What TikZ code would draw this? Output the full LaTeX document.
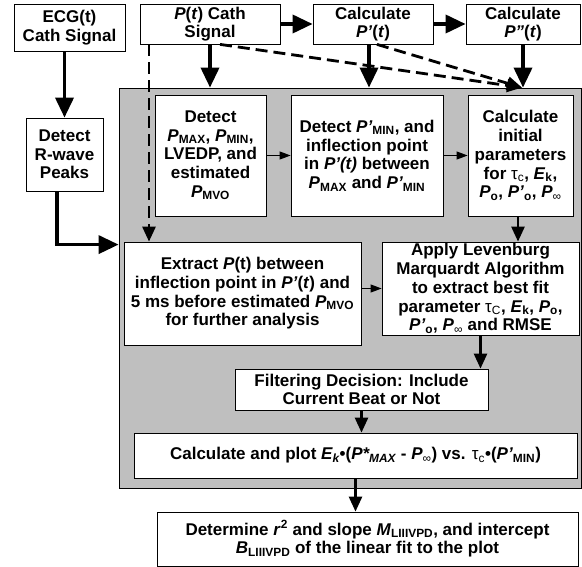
\documentclass[tikz,border=0pt]{standalone}
\usepackage{fontspec}
\setmainfont{Liberation Sans}
\usetikzlibrary{arrows.meta}
\newcommand{\sub}[1]{\textsubscript{#1}}
\newcommand{\tauc}{{\mdseries τ\textsubscript{c}}}
\newcommand{\infsub}{\textsubscript{\mdseries ∞}}
\tikzset{
  box/.style={draw, fill=white, line width=0.8pt, align=center, inner sep=1pt,
    font=\fontsize{17}{18.7}\selectfont\bfseries},
  panelbox/.style={draw, fill=gray!50, line width=0.8pt, inner sep=0pt},
  bigarrow/.style={line width=3.6pt, -{Triangle[length=20pt,width=18pt]}},
  midarrow/.style={line width=2.6pt, -{Triangle[length=15pt,width=13pt]}},
  thinarrow/.style={line width=1pt, -{Triangle[length=11pt,width=8pt]}},
  dasharrow/.style={line width=2.8pt, dash pattern=on 12pt off 6pt, -{Triangle[length=15pt,width=13pt]}}
}
\begin{document}
\begin{tikzpicture}[x=1pt, y=-1pt]
\useasboundingbox (0,0) rectangle (582,567);
\node[panelbox, minimum width=462pt, minimum height=400pt] (panel) at (350,288) {};
\node[box, minimum width=111pt, minimum height=47pt] (ecg) at (69.5,27.5) {ECG(t)\\Cath Signal};
\node[box, minimum width=140pt, minimum height=40pt] (pt) at (210,24) {\textit{P}(\textit{t}) Cath\\Signal};
\node[box, minimum width=120pt, minimum height=40pt] (dp) at (373,24) {Calculate\\\textit{P'}(\textit{t})};
\node[box, minimum width=114pt, minimum height=40pt] (ddp) at (523,24) {Calculate\\\textit{P''}(\textit{t})};
\node[box, minimum width=77pt, minimum height=73pt] (rwave) at (64.5,154.5) {Detect\\R-wave\\Peaks};
\node[box, minimum width=111pt, minimum height=121pt] (detect) at (210.5,155.5)
  {Detect\\\textit{P}\sub{MAX}, \textit{P}\sub{MIN},\\LVEDP, and\\estimated\\\textit{P}\sub{MVO}};
\node[box, minimum width=152pt, minimum height=121pt] (dmin) at (367,155.5)
  {Detect \textit{P'}\sub{MIN}, and\\inflection point\\in \textit{P'(t)} between\\\textit{P}\sub{MAX} and \textit{P'}\sub{MIN}};
\node[box, minimum width=105pt, minimum height=121pt] (init) at (520.5,155.5)
  {Calculate\\initial\\parameters\\for \tauc, \textit{E}\sub{k},\\\textit{P}\sub{o}, \textit{P'}\sub{o}, \textit{P}\infsub};
\node[box, minimum width=237pt, minimum height=103pt] (extract) at (242.5,293.5)
  {Extract \textit{P}(t) between\\inflection point in \textit{P'}(\textit{t}) and\\5 ms before estimated \textit{P}\sub{MVO}\\for further analysis};
\node[box, minimum width=197pt, minimum height=93pt] (lm) at (480.5,288.5)
  {Apply Levenburg\\Marquardt Algorithm\\to extract best fit\\parameter {\mdseries τ\textsubscript{C}}, \textit{E}\sub{k}, \textit{P}\sub{o},\\\textit{P'}\sub{o}, \textit{P}\infsub{} and RMSE};
\node[box, minimum width=253pt, minimum height=41pt] (filt) at (361.5,389.5)
  {Filtering Decision: Include\\Current Beat or Not};
\node[box, minimum width=443pt, minimum height=45pt] (plot) at (355.5,455.5)
  {Calculate and plot \textit{E\sub{k}}•(\textit{P*\sub{MAX}} - \textit{P}\infsub) vs. \tauc•(\textit{P'}\sub{MIN})};
\node[box, minimum width=421pt, minimum height=54pt] (det) at (367.5,539)
  {Determine \textit{r}\textsuperscript{2} and slope \textit{M}\sub{LIIIVPD}, and intercept\\\textit{B}\sub{LIIIVPD} of the linear fit to the plot};
\coordinate (hit) at ([xshift=-1pt]ddp.south |- panel.north);
\draw[bigarrow] (ecg.south -| rwave.north) -- (rwave.north);
\draw[bigarrow] ([xshift=-7.5pt]rwave.south) |- ([yshift=-3pt]panel.west |- extract.north);
\draw[bigarrow] (pt) -- (dp);
\draw[bigarrow] (dp) -- (ddp);
\draw[bigarrow] (pt.south) -- (pt.south |- panel.north);
\draw[bigarrow] ([xshift=-4pt]dp.south) -- ([xshift=-4pt]dp.south |- panel.north);
\draw[bigarrow] (ddp.south) -- (ddp.south |- panel.north);
\draw[dasharrow] ([xshift=10pt]pt.south) -- (hit);
\draw[dasharrow] ([xshift=4pt]dp.south) -- (hit);
\draw[dasharrow] ([xshift=-61pt]pt.south) -- ([xshift=-61pt]pt.south |- extract.north);
\draw[thinarrow] (detect) -- (dmin);
\draw[thinarrow] (dmin) -- (init);
\draw[thinarrow] (extract.east |- lm) -- (lm.west);
\draw[midarrow] ([xshift=-2.5pt]init.south) -- ([xshift=-2.5pt]init.south |- lm.north);
\draw[midarrow] (lm.south) -- (lm.south |- filt.north);
\draw[midarrow] (filt.south) -- (filt.south |- plot.north);
\draw[midarrow] (plot.south) -- (plot.south |- det.north);
\end{tikzpicture}
\end{document}
